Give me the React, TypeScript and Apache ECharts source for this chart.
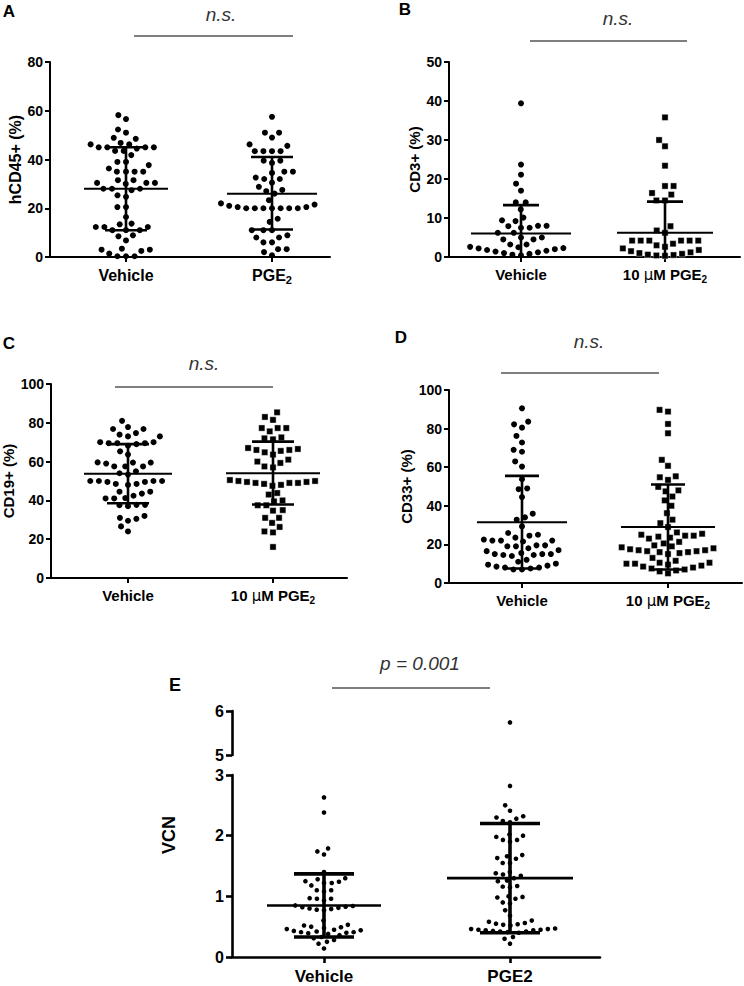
import React, { useEffect, useRef } from 'react';
import * as echarts from 'echarts';

// ---------- DATA ----------
// Panel A: hCD45+ (%)
const aCategories = ['Vehicle', 'PGE2'];
const aVehicle = [58.2, 56.6, 52.3, 51, 48.9, 48.5, 46.8, 46.2, 46.2, 45, 45, 45, 45, 44.5, 43.5, 43.5, 41.8, 39, 39, 37.7, 36.3, 35, 35, 35, 35, 31.5, 31.5, 30.4, 30.4, 30.4, 30, 28, 28, 28, 27.4, 25.3, 24.7, 20.5, 20.5, 16.4, 13.7, 13.4, 12.3, 12.3, 12.3, 11, 11, 11, 8.9, 8.5, 6.8, 3.4, 3, 3, 2.5, 1.4, 0.3, 0.3, 0.3];
const aPGE2 = [57.5, 51, 51, 49, 46.2, 45.6, 43.4, 43.4, 43.4, 43.4, 39.5, 39.5, 38.6, 35, 35, 34.5, 32.6, 32, 32, 30.5, 28.8, 27.5, 27, 26, 23.3, 22, 21.5, 20.5, 20, 20, 20, 20, 20, 20, 20, 20.5, 21, 15.7, 14.4, 11, 11, 11, 8.9, 8, 8, 6, 6, 3.2, 3.2, 2, 0.7];
const aMean = [28, 26];
const aSdLow = [11, 11.3];
const aSdHigh = [45, 41];

// Panel B: CD3+ (%)
const bCategories = ['Vehicle', '10 μM PGE2'];
const bVehicle = [39.4, 23.7, 21.1, 18.8, 17, 14, 14, 12.2, 10.1, 9.4, 9.2, 8, 8, 7.9, 7.5, 7.5, 6.2, 6.2, 5, 5, 4.5, 4.5, 3.2, 3.2, 2.6, 2.5, 2.3, 2.2, 2.0, 1.8, 1.6, 1.4, 1.2, 1.0, 0.8, 0.6, 0.4];
const bPGE2 = [35.8, 30, 28.4, 23.4, 18.2, 18.2, 16.4, 16, 14.5, 14.5, 7.9, 6.8, 6.2, 4.2, 4.2, 4.2, 4.2, 4.2, 4.2, 3.4, 3.0, 2.6, 2.2, 1.8, 1.5, 1.2, 1.0, 0.8, 0.6, 0.5, 0.4, 0.3];
const bMean = [6, 6.2];
const bSdLow = [-1.3, -1.8];
const bSdHigh = [13.3, 14.2];

// Panel C: CD19+ (%)
const cCategories = ['Vehicle', '10 μM PGE2'];
const cVehicle = [81, 77.8, 76.8, 76.8, 74.7, 73.9, 73, 73, 70, 70, 69.5, 69.5, 69.5, 69, 68.2, 65.3, 63.6, 59.6, 59.5, 59.5, 59, 57.5, 57.5, 57.5, 55, 54, 53.3, 50, 50, 50, 50, 49.5, 49.5, 48.5, 48.5, 48, 44.5, 44.5, 43.5, 42.4, 41.2, 41, 41, 37.7, 37.7, 37.5, 37, 32, 31, 30.5, 29.5, 26.6, 24];
const cPGE2 = [85.4, 83, 81.5, 77.3, 77.3, 77.3, 75.6, 72.5, 72, 71.5, 67, 66.5, 66, 66, 65.5, 64.8, 63.6, 61, 60, 59.3, 57.5, 57, 50.5, 50, 50, 49.5, 49.5, 49, 49, 49, 48.5, 48, 47.5, 43.8, 43, 40, 39.5, 37.5, 37.5, 35, 34.7, 31, 31, 28.4, 26.3, 24, 23.5, 16];
const cMean = [53.7, 54];
const cSdLow = [38.5, 37.9];
const cSdHigh = [69, 70.3];

// Panel D: CD33+ (%)
const dCategories = ['Vehicle', '10 μM PGE2'];
const dVehicle = [90.5, 83.6, 82.2, 80.5, 76.2, 72.8, 69, 68, 63, 60.3, 53.8, 49, 48.6, 44.5, 35.9, 34, 32.8, 29.3, 25.9, 25, 24.5, 23.5, 22.5, 22, 22, 22, 21.5, 19.5, 19.5, 19, 19, 18, 17, 16.5, 15.5, 15, 15, 15, 14.5, 14.5, 14, 12, 11, 10, 9.5, 9, 8.5, 8, 8, 7.5, 7, 7];
const dPGE2 = [89.7, 88.8, 82.4, 77.6, 63.8, 60.7, 55.3, 54.8, 53.4, 49.8, 48, 47.5, 44.8, 42.8, 40, 36.2, 32.8, 31, 29, 26.2, 25.5, 25, 24.5, 24.5, 24, 23.5, 23, 21.3, 20.5, 19.5, 19, 18.5, 18, 17.5, 17, 17, 16.5, 16.5, 16, 16, 15.5, 15, 13, 11.5, 10.5, 10.5, 10, 10, 9.5, 9, 8.5, 8, 7.5, 7, 6.5, 6, 5];
const dMean = [31.5, 29];
const dSdLow = [7.5, 7];
const dSdHigh = [55.5, 51];

// Panel E: VCN
const eCategories = ['Vehicle', 'PGE2'];
const eVehicle = [2.63, 2.38, 1.79, 1.74, 1.69, 1.4, 1.3, 1.28, 1.25, 1.24, 1.22, 1.22, 1.18, 1.1, 1.1, 1.08, 0.97, 0.96, 0.96, 0.93, 0.85, 0.84, 0.83, 0.82, 0.81, 0.8, 0.79, 0.78, 0.77, 0.6, 0.53, 0.52, 0.5, 0.49, 0.48, 0.46, 0.45, 0.44, 0.43, 0.42, 0.41, 0.41, 0.4, 0.39, 0.38, 0.36, 0.33, 0.31, 0.28, 0.25, 0.22, 0.14];
const ePGE2 = [5.74, 2.82, 2.5, 2.41, 2.32, 2.3, 2.28, 2.24, 2.22, 2.02, 2.0, 1.98, 1.93, 1.93, 1.9, 1.68, 1.66, 1.63, 1.62, 1.55, 1.55, 1.4, 1.38, 1.36, 1.34, 1.3, 1.26, 1.25, 1.17, 1.16, 1.15, 1.0, 0.99, 0.98, 0.96, 0.9, 0.88, 0.77, 0.68, 0.6, 0.58, 0.56, 0.55, 0.54, 0.53, 0.52, 0.47, 0.46, 0.46, 0.45, 0.45, 0.44, 0.44, 0.43, 0.42, 0.42, 0.41, 0.4, 0.33, 0.3, 0.22];
const eMean = [0.85, 1.3];
const eSdLow = [0.33, 0.4];
const eSdHigh = [1.37, 2.2];

const sigLabels = ['n.s.', 'n.s.', 'n.s.', 'n.s.', 'p = 0.001'];

// ---------- LAYOUT / STYLE ----------
const FONT = '"Liberation Sans", Arial, Helvetica, sans-serif';

type Panel = {
  grid: { left: number; top: number; width: number; height: number };
  cat: [number, number];
  y: { min: number; max: number; interval: number };
  yName: string;
  nameGap: number;
  nameFont: number;
  categories: string[];
  sub: boolean;
  groups: number[][];
  mean: number[];
  lo: number[];
  hi: number[];
  symbols: string[];
  symbolSize: number;
  dist: number;
  meanHalf: number[];
  capHalf: number;
  barW: number;
  meanW: number;
  axisW: number;
  tickFont: number;
  catFont: number;
};

const panels: Panel[] = [
  {
    grid: { left: 50, top: 62, width: 280, height: 195 }, cat: [126, 272],
    y: { min: 0, max: 80, interval: 20 }, yName: 'hCD45+ (%)', nameGap: 27, nameFont: 16,
    categories: aCategories, sub: true, groups: [aVehicle, aPGE2], mean: aMean, lo: aSdLow, hi: aSdHigh,
    symbols: ['circle', 'circle'], symbolSize: 6, dist: 8.6, meanHalf: [42, 45], capHalf: 21,
    barW: 2.6, meanW: 2, axisW: 2, tickFont: 14, catFont: 16,
  },
  {
    grid: { left: 449, top: 62, width: 291, height: 195 }, cat: [521, 665],
    y: { min: 0, max: 50, interval: 10 }, yName: 'CD3+ (%)', nameGap: 27, nameFont: 15,
    categories: bCategories, sub: true, groups: [bVehicle, bPGE2], mean: bMean, lo: bSdLow, hi: bSdHigh,
    symbols: ['circle', 'rect'], symbolSize: 6, dist: 8.6, meanHalf: [50, 48], capHalf: 18,
    barW: 2.6, meanW: 2, axisW: 2, tickFont: 14, catFont: 15,
  },
  {
    grid: { left: 51, top: 384, width: 296, height: 194 }, cat: [128, 273],
    y: { min: 0, max: 100, interval: 20 }, yName: 'CD19+ (%)', nameGap: 35, nameFont: 15,
    categories: cCategories, sub: true, groups: [cVehicle, cPGE2], mean: cMean, lo: cSdLow, hi: cSdHigh,
    symbols: ['circle', 'rect'], symbolSize: 6, dist: 8.6, meanHalf: [44, 47], capHalf: 21,
    barW: 2.6, meanW: 2, axisW: 2, tickFont: 14, catFont: 15,
  },
  {
    grid: { left: 449, top: 390, width: 293, height: 193 }, cat: [522, 668],
    y: { min: 0, max: 100, interval: 20 }, yName: 'CD33+ (%)', nameGap: 35, nameFont: 15,
    categories: dCategories, sub: true, groups: [dVehicle, dPGE2], mean: dMean, lo: dSdLow, hi: dSdHigh,
    symbols: ['circle', 'rect'], symbolSize: 6, dist: 8.6, meanHalf: [45, 47], capHalf: 17,
    barW: 2.6, meanW: 2, axisW: 2, tickFont: 14, catFont: 15,
  },
];

// Panel E broken axis layout
const eLower = { left: 232, top: 775, width: 368, height: 182 };
const eUpper = { left: 232, top: 711, width: 368, height: 44 };
const eCat: [number, number] = [324, 510];

function swarm(values: number[], toPx: (v: number) => number, d: number): number[] {
  const idx = values.map((_, i) => i).sort((a, b) => values[a] - values[b]);
  const placed: { x: number; y: number }[] = [];
  const out = new Array(values.length).fill(0);
  for (const i of idx) {
    const y = toPx(values[i]);
    const near = placed.filter((p) => Math.abs(p.y - y) < d);
    const cands: number[] = [0];
    for (const p of near) {
      const dx = Math.sqrt(d * d - (p.y - y) * (p.y - y));
      cands.push(p.x - dx, p.x + dx);
    }
    cands.sort((a, b) => Math.abs(a) - Math.abs(b));
    let best = 0;
    for (const c of cands) {
      if (near.every((p) => (p.x - c) * (p.x - c) + (p.y - y) * (p.y - y) >= d * d - 1e-6)) {
        best = c;
        break;
      }
    }
    placed.push({ x: best, y });
    out[i] = best;
  }
  return out;
}

function catLabel(name: string, sub: boolean) {
  if (sub && name.endsWith('PGE2')) {
    const pre = name.slice(0, -4);
    let s = '';
    if (pre) {
      const parts = pre.split('μ');
      if (parts.length === 2) s += `{b|${parts[0]}}{mu|μ}{b|${parts[1]}}`;
      else s += `{b|${pre}}`;
    }
    return s + '{b|PGE}{sub|2}';
  }
  return `{b|${name}}`;
}

function richFor(size: number) {
  return {
    b: { fontSize: size, fontWeight: 'bold', fontFamily: FONT, color: '#000', lineHeight: size + 4, verticalAlign: 'middle' },
    mu: { fontSize: size, fontWeight: 'normal', fontFamily: 'DejaVu Sans, sans-serif', color: '#000', lineHeight: size + 4, verticalAlign: 'middle' },
    sub: { fontSize: Math.round(size * 0.68), fontWeight: 'bold', fontFamily: FONT, color: '#000', verticalAlign: 'bottom' },
  };
}

function errorSeries(gi: number, mean: number[], lo: number[], hi: number[], ymin: number, meanHalf: number[], capHalf: number, barW: number, meanW: number) {
  return {
    type: 'custom',
    xAxisIndex: gi,
    yAxisIndex: gi,
    z: 5,
    silent: true,
    data: mean.map((m, i) => [i, m, lo[i], hi[i]]),
    renderItem: (params: any, api: any) => {
      const x = api.value(0);
      const m = api.value(1);
      const l = api.value(2);
      const h = api.value(3);
      const clipped = l < ymin;
      const pm = api.coord([x, m]);
      const ph = api.coord([x, h]);
      const pl = api.coord([x, clipped ? ymin : l]);
      const mh = meanHalf[params.dataIndex];
      const st = { stroke: '#000', lineWidth: barW };
      const children: any[] = [
        { type: 'line', shape: { x1: pm[0] - mh, y1: pm[1], x2: pm[0] + mh, y2: pm[1] }, style: { stroke: '#000', lineWidth: meanW } },
        { type: 'line', shape: { x1: ph[0], y1: ph[1], x2: pl[0], y2: pl[1] }, style: st },
        { type: 'line', shape: { x1: ph[0] - capHalf, y1: ph[1], x2: ph[0] + capHalf, y2: ph[1] }, style: st },
      ];
      if (!clipped) children.push({ type: 'line', shape: { x1: pl[0] - capHalf, y1: pl[1], x2: pl[0] + capHalf, y2: pl[1] }, style: st });
      return { type: 'group', children };
    },
  };
}

function buildOption() {
  const grid: any[] = [];
  const xAxis: any[] = [];
  const yAxis: any[] = [];
  const series: any[] = [];

  panels.forEach((p, gi) => {
    const span = p.cat[1] - p.cat[0];
    const xmin = (p.grid.left - p.cat[0]) / span;
    const xmax = (p.grid.left + p.grid.width - p.cat[0]) / span;
    grid.push({ ...p.grid });
    const axisLine = { show: true, onZero: false, lineStyle: { color: '#000', width: p.axisW } };
    xAxis.push({
      type: 'value', gridIndex: gi, min: xmin, max: xmax,
      axisLine,
      axisTick: { show: true, customValues: [0, 1], length: 5, lineStyle: { color: '#000', width: p.axisW } },
      axisLabel: { customValues: [0, 1], margin: 8, formatter: (v: number) => catLabel(p.categories[Math.round(v)], p.sub), rich: richFor(p.catFont) },
      splitLine: { show: false },
    });
    yAxis.push({
      type: 'value', gridIndex: gi, min: p.y.min, max: p.y.max, interval: p.y.interval,
      name: p.yName, nameLocation: 'middle', nameRotate: 90, nameGap: p.nameGap,
      nameTextStyle: { fontFamily: FONT, fontWeight: 'bold', fontSize: p.nameFont, color: '#000' },
      axisLine,
      axisTick: { show: true, length: 5, lineStyle: { color: '#000', width: p.axisW } },
      axisLabel: { fontFamily: FONT, fontWeight: 'bold', fontSize: p.tickFont, color: '#000', margin: 7 },
      splitLine: { show: false },
    });
    const toPx = (v: number) => ((v - p.y.min) / (p.y.max - p.y.min)) * p.grid.height;
    p.groups.forEach((vals, k) => {
      const offs = swarm(vals, toPx, p.dist);
      const isRect = p.symbols[k] === 'rect';
      series.push({
        type: 'scatter', xAxisIndex: gi, yAxisIndex: gi, clip: false, z: 3, silent: true,
        symbol: p.symbols[k], symbolSize: isRect ? p.symbolSize + 0.2 : p.symbolSize,
        itemStyle: { color: '#000', opacity: 1, borderColor: '#fff', borderWidth: isRect ? 0.4 : 0 },
        data: vals.map((v, i) => [k + offs[i] / span, v]),
      });
    });
    series.push(errorSeries(gi, p.mean, p.lo, p.hi, p.y.min, p.meanHalf, p.capHalf, p.barW, p.meanW));
  });

  // Panel E: lower (0-3) and upper (5-6) grids
  const gL = panels.length;
  const gU = gL + 1;
  const span = eCat[1] - eCat[0];
  const xmin = (eLower.left - eCat[0]) / span;
  const xmax = (eLower.left + eLower.width - eCat[0]) / span;
  const eAxisW = 2.6;
  grid.push({ ...eLower });
  grid.push({ ...eUpper });
  const eLine = { show: true, onZero: false, lineStyle: { color: '#000', width: eAxisW } };
  xAxis.push({
    type: 'value', gridIndex: gL, min: xmin, max: xmax, axisLine: eLine,
    axisTick: { show: true, customValues: [0, 1], length: 6, lineStyle: { color: '#000', width: eAxisW } },
    axisLabel: { customValues: [0, 1], margin: 9, formatter: (v: number) => `{b|${eCategories[Math.round(v)]}}`, rich: richFor(17) },
    splitLine: { show: false },
  });
  xAxis.push({ type: 'value', gridIndex: gU, min: xmin, max: xmax, show: false, splitLine: { show: false } });
  const eYLabel = { fontFamily: FONT, fontWeight: 'bold', fontSize: 16, color: '#000', margin: 8 };
  yAxis.push({
    type: 'value', gridIndex: gL, min: 0, max: 3, interval: 1, axisLine: eLine,
    axisTick: { show: true, length: 6, lineStyle: { color: '#000', width: eAxisW } },
    axisLabel: eYLabel, splitLine: { show: false },
  });
  yAxis.push({
    type: 'value', gridIndex: gU, min: 5, max: 6, interval: 1, axisLine: eLine,
    axisTick: { show: true, length: 6, lineStyle: { color: '#000', width: eAxisW } },
    axisLabel: eYLabel, splitLine: { show: false },
  });
  const ePx = (v: number) => (v <= 3 ? (v / 3) * eLower.height : eLower.height + (eLower.top - eUpper.top - eUpper.height) + ((v - 5) / 1) * eUpper.height);
  [eVehicle, ePGE2].forEach((vals, k) => {
    const offs = swarm(vals, ePx, 7.3);
    const pts = vals.map((v, i) => [k + offs[i] / span, v]);
    series.push({
      type: 'scatter', xAxisIndex: gL, yAxisIndex: gL, clip: false, z: 3, silent: true, symbol: 'circle', symbolSize: 4.6,
      itemStyle: { color: '#000', opacity: 1 }, data: pts.filter((d) => d[1] <= 3),
    });
    series.push({
      type: 'scatter', xAxisIndex: gU, yAxisIndex: gU, clip: false, z: 3, silent: true, symbol: 'circle', symbolSize: 4.6,
      itemStyle: { color: '#000', opacity: 1 }, data: pts.filter((d) => d[1] > 3),
    });
  });
  series.push(errorSeries(gL, eMean, eSdLow, eSdHigh, 0, [57, 63], 30, 3.6, 2.6));

  // Annotations
  const letter = (t: string, x: number, y: number, size: number) => ({
    type: 'text', x, y, style: { text: t, font: `bold ${size}px ${FONT}`, fill: '#000', align: 'center', verticalAlign: 'middle' },
  });
  const sig = (t: string, x: number, y: number) => ({
    type: 'text', x, y, style: { text: t, font: `italic 19px ${FONT}`, fill: '#333', align: 'center', verticalAlign: 'middle' },
  });
  const bar = (x1: number, x2: number, y: number) => ({
    type: 'line', shape: { x1, y1: y, x2, y2: y }, style: { stroke: '#555', lineWidth: 1.6 },
  });
  const graphic: any[] = [
    letter('A', 9, 11, 17), letter('B', 405, 9, 17), letter('C', 9, 343, 17), letter('D', 401, 337, 17), letter('E', 175, 685, 18),
    sig(sigLabels[0], 221, 14), sig(sigLabels[1], 618, 18), sig(sigLabels[2], 204, 363), sig(sigLabels[3], 589, 341), sig(sigLabels[4], 420, 663),
    bar(134, 293, 36), bar(530, 687, 41), bar(115, 273, 387), bar(501, 659, 373), bar(332, 490, 688),
    {
      type: 'text', x: 169, y: 835, rotation: Math.PI / 2,
      style: { text: 'VCN', font: `bold 18px ${FONT}`, fill: '#000', align: 'center', verticalAlign: 'middle' },
    },
  ];

  return { animation: false, backgroundColor: '#fff', grid, xAxis, yAxis, series, graphic };
}

export default function App() {
  const ref = useRef<HTMLDivElement>(null);
  useEffect(() => {
    if (!ref.current) return;
    const chart = echarts.init(ref.current, undefined, { renderer: 'svg' });
    chart.setOption(buildOption() as any);
    return () => chart.dispose();
  }, []);
  return <div ref={ref} style={{ position: 'absolute', left: 0, top: 0, width: 744, height: 986 }} />;
}
